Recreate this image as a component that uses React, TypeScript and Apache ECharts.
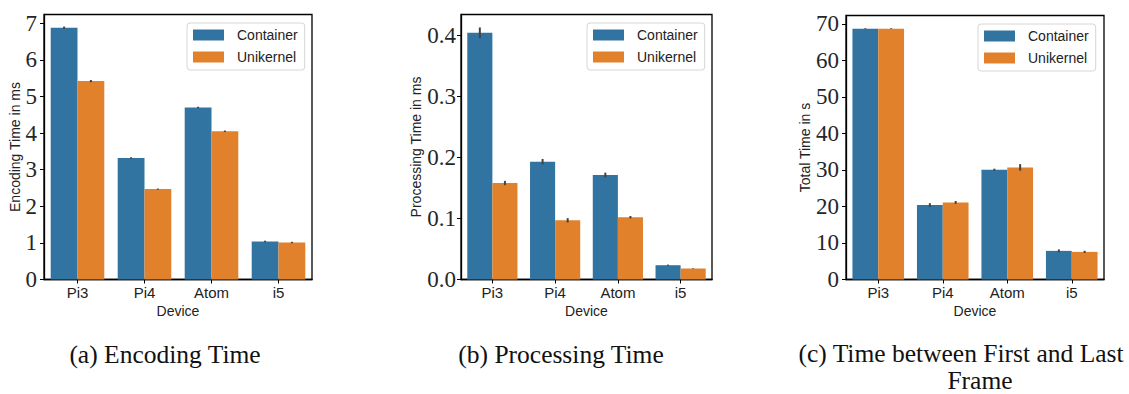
import React, { useEffect, useRef } from "react";
import * as echarts from "echarts";

const devices = ["Pi3", "Pi4", "Atom", "i5"];
const seriesNames = ["Container", "Unikernel"];

const encContainer = [6.88, 3.32, 4.7, 1.04];
const encUnikernel = [5.42, 2.47, 4.05, 1.01];
const encContainerErr = [0.03, 0.02, 0.02, 0.02];
const encUnikernelErr = [0.03, 0.015, 0.02, 0.02];

const procContainer = [0.404, 0.193, 0.171, 0.0234];
const procUnikernel = [0.158, 0.097, 0.102, 0.018];
const procContainerErr = [0.0088, 0.0044, 0.004, 0.001];
const procUnikernelErr = [0.0035, 0.0035, 0.002, 0.0005];

const totalContainer = [68.7, 20.4, 30.05, 7.84];
const totalUnikernel = [68.7, 21.1, 30.7, 7.57];
const totalContainerErr = [0.1, 0.5, 0.3, 0.4];
const totalUnikernelErr = [0.1, 0.4, 0.9, 0.3];

const encTicks = [0, 1, 2, 3, 4, 5, 6, 7];
const procTicks = [0, 0.1, 0.2, 0.3, 0.4];
const totalTicks = [0, 10, 20, 30, 40, 50, 60, 70];

const yNames = ["Encoding Time in ms", "Processing Time in ms", "Total Time in s"];
const captions = ["(a) Encoding Time", "(b) Processing Time", "(c) Time between First and Last", "Frame"];

const BLUE = "#3274a1";
const ORANGE = "#e1812c";
const ERR = "#424242";

const grids = [
  { left: 44, top: 14.5, width: 268, height: 265 },
  { left: 461, top: 14.5, width: 251, height: 265 },
  { left: 846, top: 15.5, width: 258, height: 264 },
];
const yMaxes = [7.24, 0.434, 72.3];
const yNameGaps = [19, 36, 31];
const yLabelMargins = [7, 5, 7];
const legendPos = [
  { left: 187, top: 23 },
  { left: 587, top: 23 },
  { left: 978, top: 24 },
];

const errRender = (sign: number) => (params: any, api: any) => {
  const x = api.value(0);
  const v = api.value(1);
  const e = api.value(2);
  const band = api.size([1, 0])[0];
  const top = api.coord([x, v + e]);
  const bot = api.coord([x, v - e]);
  const dx = sign * band * 0.2;
  return {
    type: "line",
    shape: { x1: top[0] + dx, y1: top[1], x2: bot[0] + dx, y2: bot[1] },
    style: { stroke: ERR, lineWidth: 2 },
  };
};

export default function App() {
  const ref = useRef<HTMLDivElement>(null);
  useEffect(() => {
    if (!ref.current) return;
    const chart = echarts.init(ref.current, null, { renderer: "svg" });
    const datasets = [
      [encContainer, encUnikernel, encContainerErr, encUnikernelErr, encTicks],
      [procContainer, procUnikernel, procContainerErr, procUnikernelErr, procTicks],
      [totalContainer, totalUnikernel, totalContainerErr, totalUnikernelErr, totalTicks],
    ];
    const xAxis: any[] = [];
    const yAxis: any[] = [];
    const series: any[] = [];
    const legend: any[] = [];
    datasets.forEach((ds, gi) => {
      const [c, u, ce, ue, ticks] = ds as number[][];
      xAxis.push({
        type: "category",
        gridIndex: gi,
        data: devices,
        name: "Device",
        nameLocation: "middle",
        nameGap: 21,
        nameTextStyle: { fontFamily: "Liberation Sans", fontSize: 14, color: "#222" },
        axisLine: { show: true, lineStyle: { color: "#000", width: 1.3 } },
        axisTick: { show: true, alignWithLabel: true, length: 4, lineStyle: { color: "#000", width: 1 } },
        axisLabel: { fontFamily: "Liberation Sans", fontSize: 15, color: "#222", margin: 5 },
        splitLine: { show: false },
      });
      yAxis.push({
        type: "value",
        gridIndex: gi,
        min: 0,
        max: yMaxes[gi],
        name: yNames[gi],
        nameLocation: "middle",
        nameGap: yNameGaps[gi],
        nameRotate: 90,
        nameTextStyle: { fontFamily: "Liberation Sans", fontSize: 14, color: "#222" },
        axisLine: { show: true, lineStyle: { color: "#000", width: 1.3 } },
        axisTick: { show: true, length: 4, customValues: ticks, lineStyle: { color: "#000", width: 1 } },
        axisLabel: {
          customValues: ticks,
          fontFamily: "Liberation Serif",
          fontSize: 23,
          color: "#262626",
          margin: yLabelMargins[gi],
          formatter: (v: number) => (gi === 1 ? v.toFixed(1) : String(Math.round(v))),
        },
        splitLine: { show: false },
      });
      series.push({
        type: "bar",
        name: seriesNames[0],
        xAxisIndex: gi,
        yAxisIndex: gi,
        data: c,
        itemStyle: { color: BLUE },
        barGap: "0%",
        barCategoryGap: "20%",
      });
      series.push({
        type: "bar",
        name: seriesNames[1],
        xAxisIndex: gi,
        yAxisIndex: gi,
        data: u,
        itemStyle: { color: ORANGE },
        barGap: "0%",
        barCategoryGap: "20%",
      });
      series.push({
        type: "custom",
        name: "errC" + gi,
        xAxisIndex: gi,
        yAxisIndex: gi,
        z: 5,
        encode: { x: 0, y: 1 },
        data: devices.map((d, i) => [i, c[i], ce[i]]),
        renderItem: errRender(-1),
      });
      series.push({
        type: "custom",
        name: "errU" + gi,
        xAxisIndex: gi,
        yAxisIndex: gi,
        z: 5,
        encode: { x: 0, y: 1 },
        data: devices.map((d, i) => [i, u[i], ue[i]]),
        renderItem: errRender(1),
      });
      legend.push({
        show: true,
        data: seriesNames,
        orient: "vertical",
        left: legendPos[gi].left,
        top: legendPos[gi].top,
        itemWidth: 31,
        itemHeight: 11,
        itemGap: 8,
        padding: [5, 7, 6, 6],
        backgroundColor: "#fff",
        borderColor: "#d6d6d6",
        borderWidth: 1,
        borderRadius: 3,
        selectedMode: false,
        textStyle: { fontFamily: "Liberation Sans", fontSize: 14, color: "#222", padding: [0, 0, 0, 8] },
        icon: "rect",
      });
    });

    const capStyle = { fontFamily: "Liberation Serif", fontSize: 25.5, fill: "#111" };
    chart.setOption({
      animation: false,
      backgroundColor: "#fff",
      grid: grids.map((g) => ({ ...g, show: true, borderColor: "#000", borderWidth: 1.3, backgroundColor: "transparent", containLabel: false })),
      xAxis,
      yAxis,
      legend,
      series,
      graphic: [
        { type: "text", x: 165, y: 354, style: { ...capStyle, text: captions[0], textAlign: "center", textVerticalAlign: "middle" } },
        { type: "text", x: 561, y: 354, style: { ...capStyle, text: captions[1], textAlign: "center", textVerticalAlign: "middle" } },
        { type: "text", x: 961, y: 353, style: { ...capStyle, text: captions[2], textAlign: "center", textVerticalAlign: "middle" } },
        { type: "text", x: 980, y: 380, style: { ...capStyle, text: captions[3], textAlign: "center", textVerticalAlign: "middle" } },
      ],
    });
    return () => chart.dispose();
  }, []);
  return (
    <div
      ref={ref}
      style={{ position: "fixed", left: 0, top: 0, width: 1129, height: 394, background: "#fff" }}
    />
  );
}
